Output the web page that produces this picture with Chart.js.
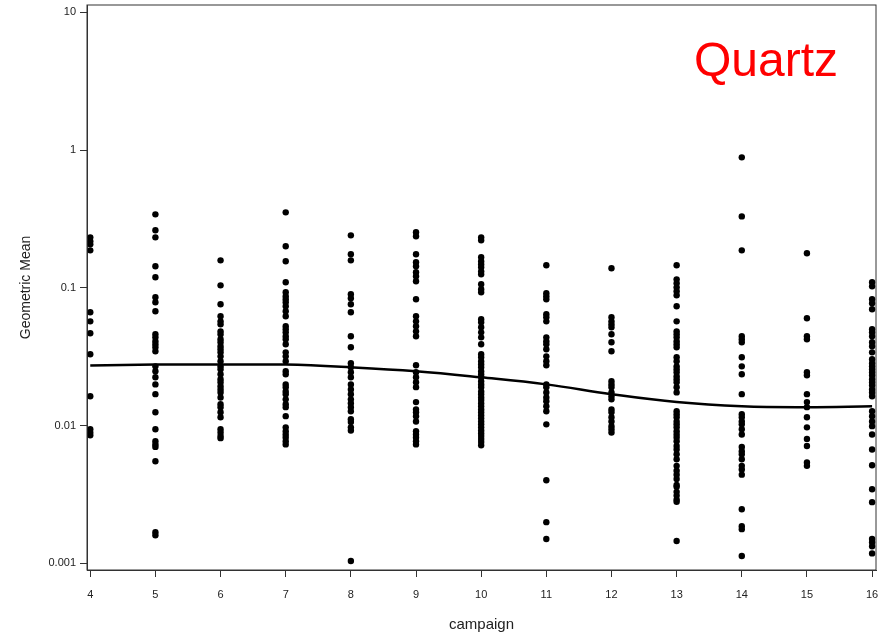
<!DOCTYPE html>
<html>
<head>
<meta charset="utf-8">
<script src="https://cdn.jsdelivr.net/npm/chart.js@4"></script>
<style>
  body { margin: 0; background: #fff; }
  canvas { display: block; }
</style>
</head>
<body>
<canvas id="quartzChart" width="885" height="634"></canvas>
<script>
// Geometric mean per campaign
const campaigns = [4, 5, 6, 7, 8, 9, 10, 11, 12, 13, 14, 15, 16]
const xTicks = [4, 5, 6, 7, 8, 9, 10, 11, 12, 13, 14, 15, 16]
const yTicks = [0.001, 0.01, 0.1, 1, 10]
const yTickLabels = ['0.001', '0.01', '0.1', '1', '10']

const c4 = [0.2325, 0.2175, 0.2068, 0.1871, 0.0664, 0.0571, 0.0468, 0.0329, 0.0163, 0.0094, 0.0089, 0.0085]
const c5 = [0.3415, 0.2614, 0.2325, 0.1432, 0.1192, 0.0853, 0.0785, 0.0675, 0.046, 0.0437, 0.0409, 0.0389,
    0.037, 0.0346, 0.0269, 0.0248, 0.0224, 0.0199, 0.0169, 0.0125, 0.0094, 0.0077, 0.0073, 0.007, 0.0055,
    0.00168, 0.0016]
const c6 = [0.1583, 0.1042, 0.0759, 0.0621, 0.0571, 0.0543, 0.0483, 0.046, 0.0423, 0.0402, 0.0376, 0.0358,
    0.034, 0.0318, 0.0293, 0.0269, 0.0256, 0.0236, 0.0217, 0.0206, 0.0193, 0.0183, 0.0174, 0.016, 0.0143,
    0.0136, 0.0125, 0.0115, 0.0094, 0.0089, 0.0084, 0.0081]
const c7 = [0.3531, 0.2001, 0.1557, 0.1096, 0.0928, 0.0868, 0.0825, 0.0785, 0.0734, 0.0675, 0.0621, 0.0526,
    0.05, 0.0475, 0.0445, 0.0423, 0.0389, 0.034, 0.0318, 0.0293, 0.0248, 0.0236, 0.0199, 0.019, 0.0177,
    0.0169, 0.0155, 0.0143, 0.0136, 0.0117, 0.0097, 0.0091, 0.0086, 0.0082, 0.0077, 0.0073]
const c8 = [0.2404, 0.1751, 0.1583, 0.0897, 0.0839, 0.0759, 0.0664, 0.0445, 0.037, 0.0283, 0.0265, 0.0244,
    0.0224, 0.0199, 0.0183, 0.0169, 0.0155, 0.0145, 0.0136, 0.0127, 0.0111, 0.0106, 0.0097, 0.0092, 0.00104]
const c9 = [0.2528, 0.2365, 0.1751, 0.1531, 0.1432, 0.1296, 0.1212, 0.1115, 0.0825, 0.0621, 0.0571, 0.0526,
    0.0483, 0.0445, 0.0274, 0.0244, 0.0224, 0.0206, 0.019, 0.0148, 0.0131, 0.0125, 0.0117, 0.0107, 0.0091,
    0.0086, 0.0082, 0.0077, 0.0073]
const c10 = [0.2325, 0.2212, 0.1665, 0.1557, 0.1481, 0.1409, 0.1317, 0.1253, 0.106, 0.0975, 0.0928, 0.0591,
    0.0562, 0.0517, 0.0475, 0.0437, 0.0389, 0.0329, 0.0313, 0.0293, 0.0279, 0.0265, 0.0248, 0.0236, 0.0224,
    0.021, 0.0199, 0.019, 0.0177, 0.0169, 0.016, 0.0153, 0.0145, 0.0138, 0.0131, 0.0125, 0.0119, 0.0113,
    0.0107, 0.0102, 0.0097, 0.0092, 0.0088, 0.0084, 0.008, 0.0076, 0.0072]
const c11 = [0.1457, 0.0912, 0.0868, 0.0825, 0.0642, 0.0611, 0.0571, 0.0437, 0.0409, 0.0389, 0.0358, 0.0318,
    0.0293, 0.0274, 0.0199, 0.019, 0.0174, 0.016, 0.015, 0.0138, 0.0127, 0.0102, 0.00401, 0.00199, 0.0015]
const c12 = [0.1385, 0.0611, 0.0571, 0.0543, 0.0517, 0.046, 0.0402, 0.0346, 0.021, 0.0199, 0.019, 0.0174,
    0.0163, 0.0155, 0.0131, 0.0125, 0.0115, 0.0107, 0.0099, 0.0094, 0.0089]
const c13 = [0.1457, 0.1152, 0.1078, 0.1008, 0.0943, 0.0882, 0.0734, 0.0571, 0.0483, 0.046, 0.0437, 0.0409,
    0.0389, 0.037, 0.0313, 0.0293, 0.0269, 0.0256, 0.0244, 0.0228, 0.0217, 0.0206, 0.019, 0.0174, 0.0127,
    0.0121, 0.0115, 0.0107, 0.0102, 0.0097, 0.0091, 0.0086, 0.0082, 0.0077, 0.0071, 0.0067, 0.0062, 0.0057,
    0.0051, 0.0047, 0.0044, 0.0041, 0.0037, 0.0036, 0.0033, 0.0031, 0.0029, 0.0028, 0.00145]
const c14 = [0.885, 0.33, 0.187, 0.0445, 0.0423, 0.0402, 0.0313, 0.0269, 0.0236, 0.0169, 0.0121, 0.0115,
    0.0107, 0.0102, 0.0094, 0.0086, 0.007, 0.0065, 0.0062, 0.0057, 0.0051, 0.0048, 0.0044, 0.00247, 0.00186,
    0.00177, 0.00113]
const c15 = [0.178, 0.0601, 0.0445, 0.0423, 0.0244, 0.0232, 0.0169, 0.0148, 0.0136, 0.0115, 0.0097, 0.008,
    0.0071, 0.0054, 0.0051]
const c16 = [0.1096, 0.1025, 0.0825, 0.0772, 0.0698, 0.05, 0.0475, 0.0445, 0.0402, 0.0376, 0.034, 0.0303,
    0.0283, 0.0269, 0.0256, 0.0244, 0.0232, 0.0217, 0.0206, 0.0196, 0.0183, 0.0174, 0.0163, 0.0127, 0.0117,
    0.0107, 0.0099, 0.0086, 0.0067, 0.00515, 0.00345, 0.00278, 0.0015, 0.00142, 0.00133, 0.00118]

const columns = [c4, c5, c6, c7, c8, c9, c10, c11, c12, c13, c14, c15, c16]

// smoothed trend
const curveX = [4, 5, 6, 7, 8, 9, 10, 11, 12, 13, 14, 15, 16]
const curveY = [0.0273, 0.0277, 0.0277, 0.0277, 0.0265, 0.0248, 0.0224, 0.0199, 0.0169, 0.0148, 0.0138, 0.0136, 0.0138]

const points = []
columns.forEach((col, i) => {
    col.forEach((v) => points.push({ x: campaigns[i], y: v }))
})
const curve = curveX.map((x, i) => ({ x: x, y: curveY[i] }))

const axisColor = '#333'
const fontFamily = '"Liberation Sans", Arial, Helvetica, sans-serif'

const framePlugin = {
    id: 'frame',
    afterDraw(chart) {
        const { ctx, chartArea } = chart
        ctx.save()
        ctx.strokeStyle = axisColor
        ctx.lineWidth = 1
        ctx.strokeRect(chartArea.left, chartArea.top, chartArea.right - chartArea.left, chartArea.bottom - chartArea.top)
        ctx.fillStyle = '#ff0000'
        ctx.font = '48px ' + fontFamily
        ctx.textAlign = 'right'
        ctx.textBaseline = 'alphabetic'
        ctx.fillText('Quartz', chartArea.right - 38, 76)
        ctx.restore()
    },
}

new Chart(document.getElementById('quartzChart'), {
    type: 'scatter',
    data: {
        datasets: [
            {
                type: 'line',
                label: 'trend',
                data: curve,
                borderColor: '#000',
                borderWidth: 2.5,
                pointRadius: 0,
                tension: 0.4,
                fill: false,
                order: 0,
            },
            {
                label: 'Geometric Mean',
                data: points,
                backgroundColor: '#000',
                borderWidth: 0,
                pointRadius: 3.2,
                order: 1,
            },
        ],
    },
    options: {
        responsive: false,
        animation: false,
        layout: { padding: { top: 5, right: 9, left: 0, bottom: 0 } },
        plugins: {
            legend: { display: false },
            tooltip: { enabled: false },
        },
        scales: {
            x: {
                type: 'linear',
                min: 3.95,
                max: 16.06,
                afterBuildTicks: (scale) => {
                    scale.ticks = xTicks.map((v) => ({ value: v }))
                },
                afterFit: (scale) => {
                    scale.height = 64
                    scale.paddingLeft = 0
                    scale.paddingRight = 0
                },
                grid: { drawOnChartArea: false, drawTicks: true, tickLength: 7, color: axisColor },
                border: { display: true, color: axisColor },
                ticks: {
                    color: '#222',
                    padding: 11,
                    maxRotation: 0,
                    font: { family: fontFamily, size: 11 },
                },
                title: {
                    display: true,
                    text: 'campaign',
                    color: '#222',
                    padding: { top: 0, bottom: 0 },
                    font: { family: fontFamily, size: 15 },
                },
            },
            y: {
                type: 'logarithmic',
                min: 0.000894,
                max: 11.3,
                afterBuildTicks: (scale) => {
                    scale.ticks = yTicks.map((v) => ({ value: v }))
                },
                afterFit: (scale) => {
                    scale.width = 87
                    scale.paddingTop = 0
                    scale.paddingBottom = 0
                },
                grid: { drawOnChartArea: false, drawTicks: true, tickLength: 7, color: axisColor },
                border: { display: true, color: axisColor },
                ticks: {
                    color: '#222',
                    padding: 4,
                    font: { family: fontFamily, size: 11 },
                    callback: (value) => yTickLabels[yTicks.indexOf(value)],
                },
                title: {
                    display: true,
                    text: 'Geometric Mean',
                    color: '#222',
                    padding: { top: 18, bottom: 0 },
                    font: { family: fontFamily, size: 14 },
                },
            },
        },
    },
    plugins: [framePlugin],
})
</script>
</body>
</html>
